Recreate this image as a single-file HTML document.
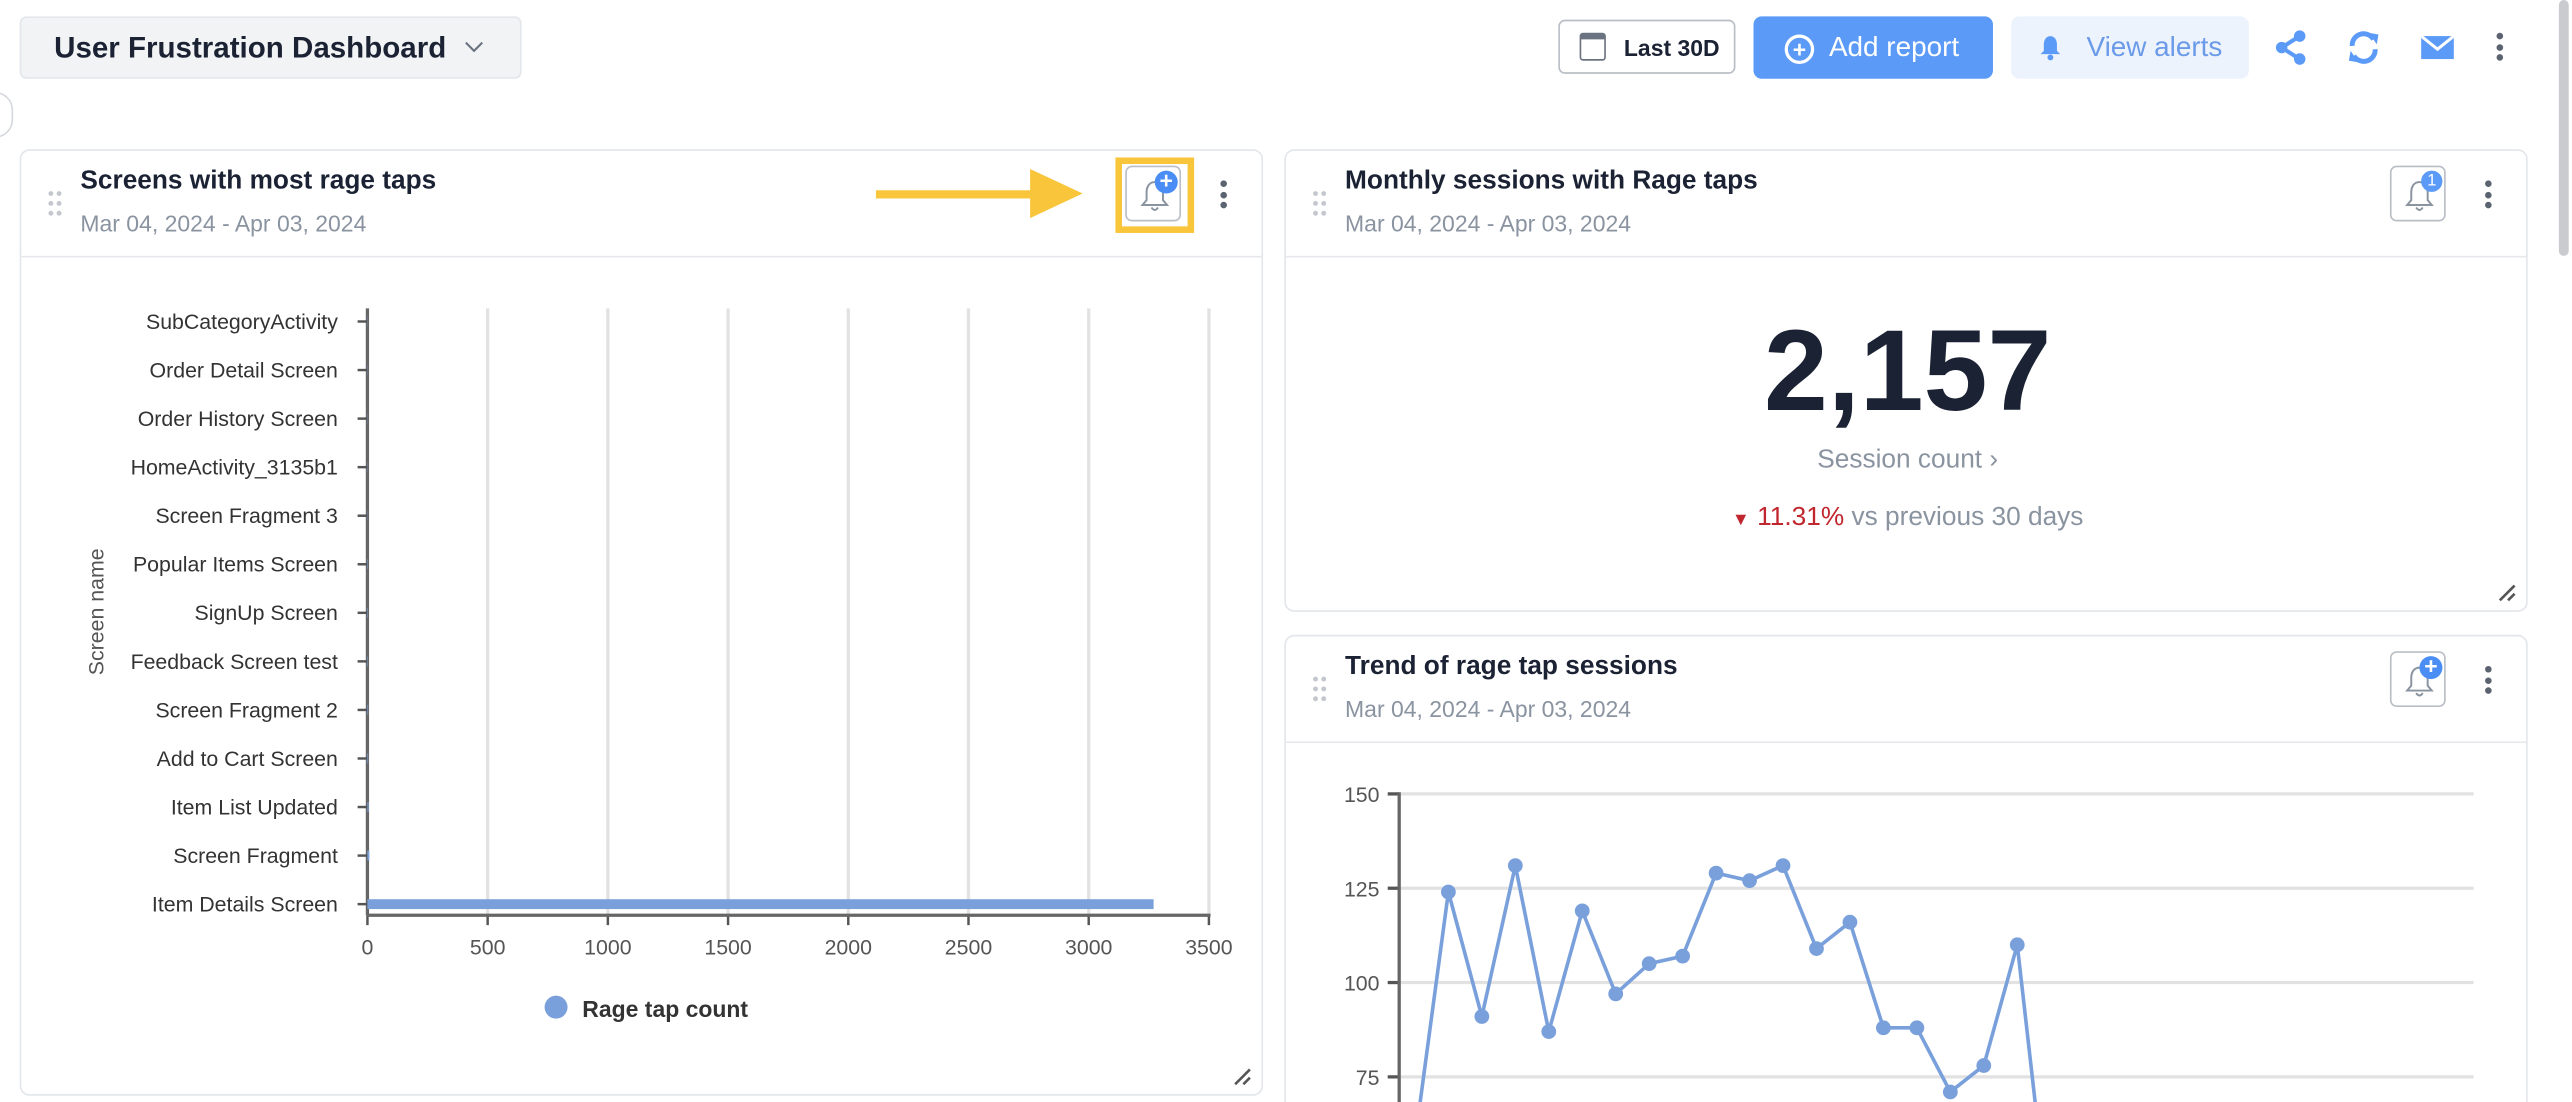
<!DOCTYPE html>
<html><head><meta charset="utf-8">
<style>
html,body{margin:0;padding:0;background:#fff;width:2572px;height:1102px;overflow:hidden;font-family:"Liberation Sans",sans-serif;}
#wrap{position:absolute;left:0;top:0;width:1568px;height:672px;transform:scale(1.64031);transform-origin:0 0;overflow:hidden;}
.abs{position:absolute;}
.card{position:absolute;background:#fff;border:1px solid #e3e6ea;border-radius:6px;box-sizing:border-box;overflow:hidden;}
.ctitle{position:absolute;font-size:16px;font-weight:bold;color:#1b2234;}
.cdate{position:absolute;font-size:14px;color:#8a93a0;}
.sep{position:absolute;left:0;right:0;height:1px;background:#e6e8eb;}
.kebab{position:absolute;width:4px;}
.kebab i{display:block;width:4px;height:4px;border-radius:2px;background:#5b6270;margin-bottom:2.5px;}
.bellbtn{position:absolute;width:34px;height:34px;border:1px solid #b9bec6;border-radius:4px;box-sizing:border-box;background:#fff;}
</style></head><body>
<div id="wrap">

<div class="abs" style="left:12px;top:10px;width:306px;height:38px;background:#f1f3f5;border:1px solid #e3e6ea;border-radius:4px;box-sizing:border-box;">
  <span class="abs" style="left:20px;top:8px;font-size:18px;font-weight:bold;color:#1b2234;">User Frustration Dashboard</span>
  <svg class="abs" style="left:270px;top:14px" width="12" height="8" viewBox="0 0 12 8"><path d="M1 1L6 6L11 1" stroke="#6b7380" stroke-width="1.3" fill="none"/></svg>
</div>
<div class="abs" style="left:-14px;top:56px;width:20px;height:26px;border:1px solid #d5d9de;border-radius:13px;"></div>

<div class="abs" style="left:950px;top:12px;width:108px;height:33px;border:1px solid #b9bec6;border-radius:4px;box-sizing:border-box;background:#fff;">
  <div class="abs" style="left:12px;top:7px;width:16px;height:17px;border:1.5px solid #6b7380;border-radius:2px;box-sizing:border-box;border-top-width:4px;"></div>
  <span class="abs" style="left:39px;top:8px;font-size:14px;font-weight:bold;color:#1b2234;">Last 30D</span>
</div>
<div class="abs" style="left:1069px;top:10px;width:146px;height:38px;background:#5b9af7;border-radius:5px;">
  <div class="abs" style="left:19px;top:11px;width:14px;height:14px;border:2px solid #fff;border-radius:50%;color:#fff;font-size:14px;line-height:14px;text-align:center;font-weight:bold;">+</div>
  <span class="abs" style="left:46px;top:9px;font-size:17px;color:#fff;">Add report</span>
</div>
<div class="abs" style="left:1226px;top:10px;width:145px;height:38px;background:#edf3fd;border-radius:5px;">
  <svg class="abs" style="left:17px;top:11px" width="14" height="16" viewBox="0 0 14 16"><path d="M7 1C4 1 3 4 3 6L3 10L1 12L13 12L11 10L11 6C11 4 10 1 7 1Z" fill="#5b9af7"/><circle cx="7" cy="14" r="1.8" fill="#5b9af7"/></svg>
  <span class="abs" style="left:46px;top:9px;font-size:17px;color:#6a9ae8;">View alerts</span>
</div>
<svg class="abs" style="left:1386px;top:18px" width="22" height="22" viewBox="0 0 22 22"><circle cx="16" cy="4" r="3.5" fill="#5b9af7"/><circle cx="5" cy="11" r="3.5" fill="#5b9af7"/><circle cx="16" cy="18" r="3.5" fill="#5b9af7"/><path d="M16 4L5 11L16 18" stroke="#5b9af7" stroke-width="2.5" fill="none"/></svg>
<svg class="abs" style="left:1430px;top:18px" width="22" height="22" viewBox="0 0 22 22"><path d="M4 10A7 7 0 0 1 17 6" stroke="#5b9af7" stroke-width="3" fill="none"/><path d="M18 12A7 7 0 0 1 5 16" stroke="#5b9af7" stroke-width="3" fill="none"/><path d="M14 2L20 3L19 9Z" fill="#5b9af7"/><path d="M8 20L2 19L3 13Z" fill="#5b9af7"/></svg>
<svg class="abs" style="left:1476px;top:21px" width="20" height="16" viewBox="0 0 20 16"><rect x="0" y="1" width="20" height="14" fill="#5b9af7"/><path d="M0 1L10 9L20 1" stroke="#fff" stroke-width="1.8" fill="none"/></svg>
<div class="kebab" style="left:1522px;top:20px;"><i></i><i></i><i></i></div>
<div class="abs" style="left:1560px;top:0;width:6px;height:156px;background:#c9cbcf;border-radius:3px;"></div>

<!-- Card 1 -->
<div class="card" style="left:12px;top:91px;width:758px;height:577px;">
  <svg class="abs" style="left:16px;top:24px" width="10" height="16" viewBox="0 0 10 16"><g fill="#c4c8ce"><circle cx="2" cy="2" r="1.5"/><circle cx="7" cy="2" r="1.5"/><circle cx="2" cy="8" r="1.5"/><circle cx="7" cy="8" r="1.5"/><circle cx="2" cy="14" r="1.5"/><circle cx="7" cy="14" r="1.5"/></g></svg>
  <div class="ctitle" style="left:36px;top:10px;">Screens with most rage taps</div>
  <div class="cdate" style="left:36px;top:36px;">Mar 04, 2024 - Apr 03, 2024</div>
  <div class="sep" style="top:64px;"></div>
  <div class="kebab" style="left:731px;top:18px;"><i></i><i></i><i></i></div>
  <svg class="abs" style="left:738px;top:558px" width="12" height="12" viewBox="0 0 12 12"><path d="M2 11L11 2M7 11L11 7" stroke="#555" stroke-width="1.6"/></svg>
</div>
<div class="abs" style="left:534px;top:116px;width:100px;height:5px;background:#f9c53a;"></div>
<div class="abs" style="left:628px;top:103px;width:0;height:0;border-top:15px solid transparent;border-bottom:15px solid transparent;border-left:32px solid #f9c53a;"></div>
<div class="abs" style="left:680px;top:96px;width:48px;height:46px;border:4px solid #f9c53a;box-sizing:border-box;"></div>
<div class="bellbtn" style="left:686px;top:101px;">
  <svg class="abs" style="left:8px;top:7px" width="18" height="22" viewBox="0 0 18 22"><path d="M9 2C5 2 4 6 4 8L4 13L1.5 16L16.5 16L14 13L14 8C14 6 13 2 9 2Z" fill="none" stroke="#8a93a0" stroke-width="1.2"/><path d="M7 17.5Q9 20.5 11 17.5" fill="none" stroke="#8a93a0" stroke-width="1.2"/></svg>
  <div class="abs" style="left:17px;top:2px;width:14px;height:14px;border-radius:50%;background:#4a8df5;color:#fff;font-size:14px;line-height:13px;text-align:center;font-weight:bold;">+</div>
</div>

<!-- Card 2 -->
<div class="card" style="left:783px;top:91px;width:758px;height:282px;">
  <svg class="abs" style="left:16px;top:24px" width="10" height="16" viewBox="0 0 10 16"><g fill="#c4c8ce"><circle cx="2" cy="2" r="1.5"/><circle cx="7" cy="2" r="1.5"/><circle cx="2" cy="8" r="1.5"/><circle cx="7" cy="8" r="1.5"/><circle cx="2" cy="14" r="1.5"/><circle cx="7" cy="14" r="1.5"/></g></svg>
  <div class="ctitle" style="left:36px;top:10px;">Monthly sessions with Rage taps</div>
  <div class="cdate" style="left:36px;top:36px;">Mar 04, 2024 - Apr 03, 2024</div>
  <div class="sep" style="top:64px;"></div>
  <div class="kebab" style="left:731px;top:18px;"><i></i><i></i><i></i></div>
  <div class="abs" style="left:0;width:758px;top:94px;text-align:center;font-size:70px;font-weight:bold;color:#1b2234;">2,157</div>
  <div class="abs" style="left:0;width:758px;top:180px;text-align:center;font-size:16px;color:#8a93a0;">Session count &#8250;</div>
  <div class="abs" style="left:0;width:758px;top:215px;text-align:center;font-size:16px;color:#8a93a0;"><span style="color:#c0262d;font-size:11px;">&#9660;</span> <span style="color:#c0262d;">11.31%</span> vs previous 30 days</div>
  <svg class="abs" style="left:738px;top:263px" width="12" height="12" viewBox="0 0 12 12"><path d="M2 11L11 2M7 11L11 7" stroke="#555" stroke-width="1.6"/></svg>
</div>
<div class="bellbtn" style="left:1457px;top:101px;">
  <svg class="abs" style="left:8px;top:7px" width="18" height="22" viewBox="0 0 18 22"><path d="M9 2C5 2 4 6 4 8L4 13L1.5 16L16.5 16L14 13L14 8C14 6 13 2 9 2Z" fill="none" stroke="#8a93a0" stroke-width="1.2"/><path d="M7 17.5Q9 20.5 11 17.5" fill="none" stroke="#8a93a0" stroke-width="1.2"/></svg>
  <div class="abs" style="left:18px;top:2px;width:13px;height:13px;border-radius:50%;background:#5b9af7;color:#fff;font-size:10px;line-height:13px;text-align:center;">1</div>
</div>

<!-- Card 3 -->
<div class="card" style="left:783px;top:387px;width:758px;height:290px;">
  <svg class="abs" style="left:16px;top:24px" width="10" height="16" viewBox="0 0 10 16"><g fill="#c4c8ce"><circle cx="2" cy="2" r="1.5"/><circle cx="7" cy="2" r="1.5"/><circle cx="2" cy="8" r="1.5"/><circle cx="7" cy="8" r="1.5"/><circle cx="2" cy="14" r="1.5"/><circle cx="7" cy="14" r="1.5"/></g></svg>
  <div class="ctitle" style="left:36px;top:10px;">Trend of rage tap sessions</div>
  <div class="cdate" style="left:36px;top:36px;">Mar 04, 2024 - Apr 03, 2024</div>
  <div class="sep" style="top:64px;"></div>
  <div class="kebab" style="left:731px;top:18px;"><i></i><i></i><i></i></div>
</div>
<div class="bellbtn" style="left:1457px;top:397px;">
  <svg class="abs" style="left:8px;top:7px" width="18" height="22" viewBox="0 0 18 22"><path d="M9 2C5 2 4 6 4 8L4 13L1.5 16L16.5 16L14 13L14 8C14 6 13 2 9 2Z" fill="none" stroke="#8a93a0" stroke-width="1.2"/><path d="M7 17.5Q9 20.5 11 17.5" fill="none" stroke="#8a93a0" stroke-width="1.2"/></svg>
  <div class="abs" style="left:17px;top:2px;width:14px;height:14px;border-radius:50%;background:#4a8df5;color:#fff;font-size:14px;line-height:13px;text-align:center;font-weight:bold;">+</div>
</div>

<svg id="bar" class="abs" style="left:0;top:0;" width="1568" height="672"></svg>
<svg id="line" class="abs" style="left:0;top:0;" width="1568" height="672"></svg>
</div>

<script>
const barCategories = ["SubCategoryActivity","Order Detail Screen","Order History Screen","HomeActivity_3135b1","Screen Fragment 3","Popular Items Screen","SignUp Screen","Feedback Screen test","Screen Fragment 2","Add to Cart Screen","Item List Updated","Screen Fragment","Item Details Screen"];
const barValues = [1,1,1,1,1,2,2,2,3,3,5,8,3270];
const barTicks = [0,500,1000,1500,2000,2500,3000,3500];

const lineValues = [58,124,91,131,87,119,97,105,107,129,127,131,109,116,88,88,71,78,110,32,30,28,30,25,27,29,26,24,28,30];
const lineTicks = [75,100,125,150];

const NS="http://www.w3.org/2000/svg";
function mk(svg,tag,attrs,txt){const e=document.createElementNS(NS,tag);for(const k in attrs)e.setAttribute(k,attrs[k]);if(txt!==undefined)e.textContent=txt;svg.appendChild(e);return e;}

// Bar chart
(function(){
  const svg=document.getElementById('bar');
  const x0=224,x1=737,yTop=188,yBot=558,maxV=3500;
  const xs=v=>x0+(v/maxV)*(x1-x0);
  const rowTop=196,rowStep=29.6;
  const ys=i=>rowTop+i*rowStep;
  barTicks.forEach(t=>{
    if(t>0){const g=mk(svg,'line',{x1:xs(t),x2:xs(t),y1:yTop,y2:yBot,stroke:'#e2e2e2','stroke-width':2});
      
      }
    mk(svg,'line',{x1:xs(t),x2:xs(t),y1:yBot,y2:yBot+6,stroke:'#555','stroke-width':1.5});
    const l=mk(svg,'text',{x:xs(t),y:yBot+24,'text-anchor':'middle','font-size':13,fill:'#555','font-family':'Liberation Sans'},t);
    
    
  });
  mk(svg,'line',{x1:x0,x2:x0,y1:yTop,y2:yBot,stroke:'#666','stroke-width':2});
  mk(svg,'line',{x1:x0,x2:x1+1,y1:yBot,y2:yBot,stroke:'#666','stroke-width':2});
  barCategories.forEach((c,i)=>{
    const y=ys(i);
    mk(svg,'line',{x1:x0-6,x2:x0,y1:y,y2:y,stroke:'#555','stroke-width':1.5});
    const l=mk(svg,'text',{x:x0-18,y:y+4.5,'text-anchor':'end','font-size':13,fill:'#333','font-family':'Liberation Sans'},c);
    
    
    const b=mk(svg,'rect',{x:x0,y:y-3,width:Math.max(0,xs(barValues[i])-x0),height:6,fill:'#7aa0dc'});
    
    
  });
  const yt=mk(svg,'text',{x:0,y:0,transform:'translate(63,373) rotate(-90)','text-anchor':'middle','font-size':13,fill:'#555','font-family':'Liberation Sans'},'Screen name');
  
  
  const lc=mk(svg,'circle',{cx:339,cy:614,r:7,fill:'#7aa0dc'});
  
  
  const lt=mk(svg,'text',{x:355,y:620,'font-size':14,'font-weight':'bold',fill:'#333','font-family':'Liberation Sans'},'Rage tap count');
  
  
})();

// Line chart
(function(){
  const svg=document.getElementById('line');
  const xL=853,xR=1508,x0=862.6,step=20.4;
  const ys=v=>599-(v-100)*2.3;
  const xs=i=>x0+i*step;
  const cp=mk(svg,'clipPath',{id:'lc'});mk(cp,'rect',{x:783,y:452,width:757,height:220});
  lineTicks.forEach(t=>{
    const g=mk(svg,'line',{x1:xL,x2:xR,y1:ys(t),y2:ys(t),stroke:'#e2e2e2','stroke-width':2});
    
    
    mk(svg,'line',{x1:xL-7,x2:xL,y1:ys(t),y2:ys(t),stroke:'#555','stroke-width':2});
    const l=mk(svg,'text',{x:xL-12,y:ys(t)+5,'text-anchor':'end','font-size':13,fill:'#555','font-family':'Liberation Sans'},t);
    
    
  });
  mk(svg,'line',{x1:xL,x2:xL,y1:ys(150)-1,y2:672,stroke:'#666','stroke-width':2});
  const g=mk(svg,'g',{'clip-path':'url(#lc)'});
  const pts=lineValues.map((v,i)=>xs(i)+','+ys(v)).join(' ');
  const pl=mk(g,'polyline',{points:pts,fill:'none',stroke:'#7aa0dc','stroke-width':2.2});
  
  
  lineValues.forEach((v,i)=>{
    const c=mk(g,'circle',{cx:xs(i),cy:ys(v),r:4.5,fill:'#7aa0dc'});
    
    
  });
})();
</script>
</body></html>
